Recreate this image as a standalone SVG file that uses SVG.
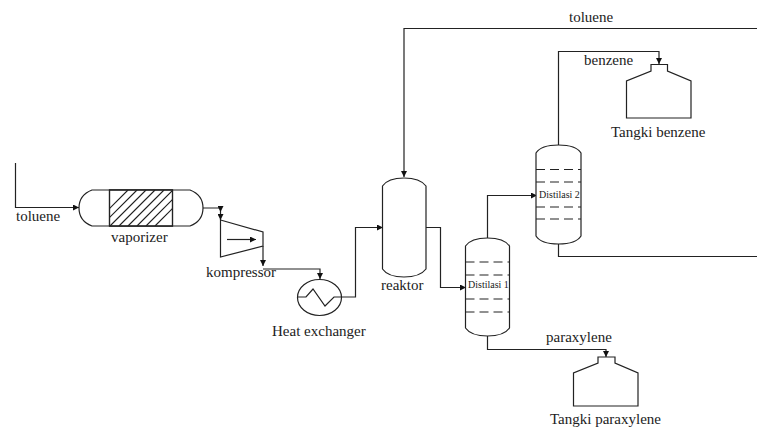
<svg xmlns="http://www.w3.org/2000/svg" width="757" height="428" viewBox="0 0 757 428">
<defs>
<style>
.s{fill:none;stroke:#222;stroke-width:1.2}
.f{fill:#fff;stroke:#222;stroke-width:1.2}
.d{fill:none;stroke:#222;stroke-width:1.1;stroke-dasharray:9 5}
text{font-family:"Liberation Serif","Times New Roman",serif;font-size:15px;fill:#222}
.sm{font-size:10px}
.h{stroke:#222;stroke-width:1.2}
</style>
<marker id="a" markerUnits="userSpaceOnUse" markerWidth="7" markerHeight="6" refX="6" refY="3" orient="auto"><path d="M0 0L6 3L0 6Z" fill="#111"/></marker>
<clipPath id="hc"><rect x="109.500" y="190" width="63" height="36"/></clipPath>
</defs>
<g id="connectors">
<path class="s" d="M15.500 163V207.500H79" marker-end="url(#a)"/>
<path class="s" d="M203 208H220.500V212" marker-end="url(#a)"/>
<path class="s" d="M220.500 212V220" marker-end="url(#a)"/>
<path class="s" d="M263 246V266" marker-end="url(#a)"/>
<path class="s" d="M263 269H320V279" marker-end="url(#a)"/>
<path class="s" d="M342 297H355.500V227.500H383" marker-end="url(#a)"/>
<path class="s" d="M757 28.500H404V177" marker-end="url(#a)"/>
<path class="s" d="M426 227.500H440.500V287.500H466" marker-end="url(#a)"/>
<path class="s" d="M487.500 238V195.500H537" marker-end="url(#a)"/>
<path class="s" d="M487.500 336V349.500H606V357" marker-end="url(#a)"/>
<path class="s" d="M558.500 145V51.500H659V64" marker-end="url(#a)"/>
<path class="s" d="M558.500 244V256.500H757"/>
</g>
<g id="inlet-label"><text x="16" y="221">toluene</text></g>
<g id="vaporizer">
<path class="f" d="M92 190H190Q203 195 203 208Q203 221 190 226H92Q79 221 79 208Q79 195 92 190Z"/>
<rect class="f" x="109.500" y="190" width="63" height="36"/>
<g clip-path="url(#hc)"><path class="h" d="M92 226L128 190M101 226L137 190M110 226L146 190M119 226L155 190M128 226L164 190M137 226L173 190M146 226L182 190M155 226L191 190"/></g>
<rect class="s" x="109.500" y="190" width="63" height="36"/>
<text x="111" y="242">vaporizer</text>
</g>
<g id="kompressor">
<path class="f" d="M220.500 220L263 232V246L220.500 257Z"/>
<path class="s" d="M227 239.500H256" marker-end="url(#a)"/>
<text x="206" y="277">kompressor</text>
</g>
<g id="heat-exchanger">
<ellipse class="f" cx="319.500" cy="297.500" rx="22" ry="18"/>
<path class="s" d="M298 297L306 297L313 289L325 306L334 297H342"/>
<text x="272" y="336">Heat exchanger</text>
</g>
<g id="reaktor">
<path class="f" d="M382.500 186Q388 178 404 178Q420 178 426 186V269Q420 277 404 277Q388 277 382.500 269Z"/>
<text x="381" y="290">reaktor</text>
</g>
<g id="distilasi-1">
<path class="f" d="M465.500 246Q471 238 487.500 238Q504 238 509.500 246V328Q504 336 487.500 336Q471 336 465.500 328Z"/>
<path class="d" d="M465.500 262H509.500M465.500 275H509.500M465.500 299H509.500M465.500 312H509.500"/>
<text class="sm" x="468" y="288">Distilasi 1</text>
</g>
<g id="distilasi-2">
<path class="f" d="M536 153Q541 145 558.500 145Q576 145 581 153V236Q576 244 558.500 244Q541 244 536 236Z"/>
<path class="d" d="M536 169.500H581M536 182H581M536 207H581M536 219H581"/>
<text class="sm" x="539" y="198">Distilasi 2</text>
</g>
<g id="tangki-benzene">
<path class="f" d="M626.500 118V81L651 71V64.500H667.500V71L691 81V118Z"/>
<text x="611" y="137">Tangki benzene</text>
</g>
<g id="tangki-paraxylene">
<path class="f" d="M573.500 406V373L598 363V357H615V363L638 373V406Z"/>
<text x="550" y="424">Tangki paraxylene</text>
</g>
<g id="labels">
<text x="569" y="22">toluene</text>
<text x="584" y="65">benzene</text>
<text x="546" y="342">paraxylene</text>
</g>
</svg>
